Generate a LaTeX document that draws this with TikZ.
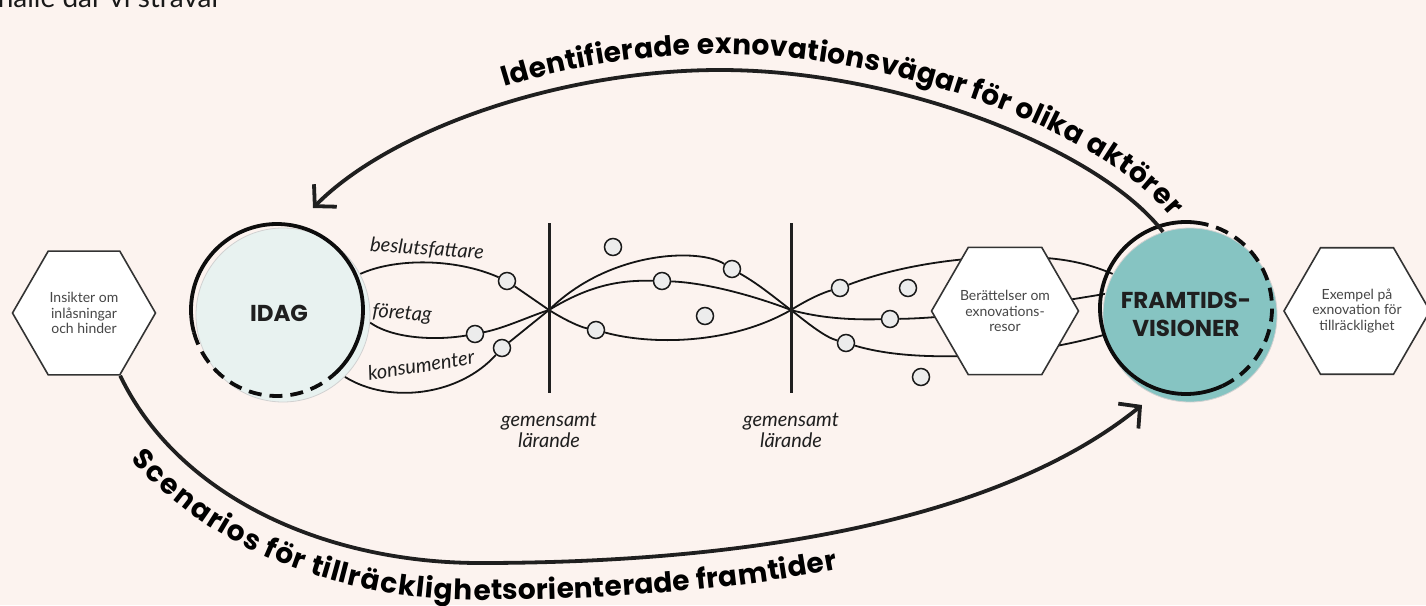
\documentclass[tikz,border=0pt]{standalone}
\usepackage{fontspec}
\setmainfont{Lato}
\newfontfamily\popfont{Poppins}
\usetikzlibrary{decorations.text,arrows.meta,shapes.geometric}
\pgfdeclarelayer{back}
\pgfdeclarelayer{lines}
\pgfsetlayers{back,lines,main}
\definecolor{bgc}{RGB}{252,243,239}
\definecolor{idagfill}{RGB}{232,242,240}
\definecolor{tealc}{RGB}{134,196,194}
\definecolor{dotfill}{RGB}{236,236,236}
\definecolor{hextext}{RGB}{70,70,70}
\begin{document}
\begin{tikzpicture}[x=1pt,y=-1pt,
  hexbox/.style={regular polygon, regular polygon sides=6, minimum size=143pt, inner sep=0pt, draw=black!80, line width=1.6pt, fill=white, text=hextext, align=center, font=\fontsize{14}{15.5}\selectfont},
  bigcirc/.style={circle, minimum size=174pt, inner sep=0pt, draw=black!18, line width=0.8pt},
  dotc/.style={circle, minimum size=17pt, inner sep=0pt, draw=black!90, line width=1.5pt, fill=dotfill},
  wire/.style={line width=1.8pt, draw=black!92},
  ringsolid/.style={line width=3.8pt, draw=black!95},
  ringdash/.style={line width=3.8pt, draw=black!95, dash pattern=on 13pt off 8pt},
  vbar/.style={line width=3pt, draw=black!88},
  bigarrow/.style={line width=3.8pt, draw=black!88, -{Straight Barb[length=15pt,width=32pt]}},
  lab/.style={font=\itshape\fontsize{20}{21}\selectfont, text=black!88, inner sep=0pt},
  circtxt/.style={font=\popfont\bfseries\fontsize{23}{28}\selectfont, text=black!88, align=center},
]
\begin{pgfonlayer}{back}
\fill[bgc] (0,0) rectangle (1426,605);
\end{pgfonlayer}
\useasboundingbox (0,0) rectangle (1426,605);

% cut-off text at top
\node[anchor=base east, inner sep=0pt, font=\fontsize{28}{30}\selectfont, text=black!90] (topfrag) at (222,8) {samhälle där vi strävar};

% main nodes
\node[hexbox] (lhex) at (84,313) {Insikter om\\inlåsningar\\och hinder};
\node[bigcirc, fill=idagfill] (idag) at (283,315) {};
\node[hexbox] (mhex) at (1005,311) {Berättelser om\\exnovations-\\resor};
\node[bigcirc, fill=tealc] (framtid) at (1190,315) {};
\node[hexbox] (rhex) at (1357,311) {Exempel på\\exnovation för\\tillräcklighet};

% rings
\draw[ringsolid] ([shift={(-50:86pt)}]277,310) arc[start angle=-50, end angle=195, radius=86pt];
\draw[ringdash] ([shift={(195:86pt)}]277,310) arc[start angle=195, end angle=310, radius=86pt];
\draw[ringsolid] ([shift={(75:86pt)}]1186,308) arc[start angle=75, end angle=295, radius=86pt];
\draw[ringdash] ([shift={(-65:86pt)}]1186,308) arc[start angle=-65, end angle=75, radius=86pt];

\node[circtxt] (idagtxt) at (279,313) {IDAG};
\node[circtxt] (ftxt) at (1186,314) {FRAMTIDS-\\VISIONER};

% crossings and bars
\coordinate (x1) at (549,310);
\coordinate (x2) at (791,310);
\coordinate (v1a) at (549,223);
\coordinate (v1b) at (549,393);
\coordinate (v2a) at (791,223);
\coordinate (v2b) at (791,393);

% dots
\node[dotc] (d1) at (507,281) {};
\node[dotc] (d2) at (475,334) {};
\node[dotc] (d3) at (502,348) {};
\node[dotc] (d4) at (613,247) {};
\node[dotc] (d5) at (662,281) {};
\node[dotc] (d6) at (732,269) {};
\node[dotc] (d7) at (705,316) {};
\node[dotc] (d8) at (596,330) {};
\node[dotc] (d9) at (840,288) {};
\node[dotc] (d10) at (908,288) {};
\node[dotc] (d11) at (890,319) {};
\node[dotc] (d12) at (846,343) {};
\node[dotc] (d13) at (921,377) {};

\begin{pgfonlayer}{lines}
\draw[wire] (idag.28) .. controls (395,258) and (455,258) .. (d1) -- (x1);
\draw[wire] (idag.-5) .. controls (395,340) and (440,340) .. (d2) .. controls (505,328) and (530,316) .. (x1);
\draw[wire] (idag.-45) .. controls (390,405) and (460,395) .. (d3) -- (x1);
\draw[wire] (x1) .. controls (610,250) and (700,248) .. (d6) .. controls (760,285) and (775,298) .. (x2);
\draw[wire] (x1) .. controls (590,285) and (620,280) .. (d5) .. controls (710,283) and (760,298) .. (x2);
\draw[wire] (x1) .. controls (565,320) and (580,327) .. (d8) .. controls (650,345) and (730,345) .. (x2);
\draw[wire] (x2) .. controls (810,298) and (825,292) .. (d9) .. controls (900,265) and (960,258) .. (1000,257) .. controls (1050,256) and (1080,260) .. (framtid.152);
\draw[wire] (x2) .. controls (820,318) and (850,320) .. (d11) .. controls (960,318) and (1050,303) .. (framtid.166);
\draw[wire] (x2) .. controls (810,325) and (825,337) .. (d12) .. controls (890,356) and (930,357) .. (970,356) .. controls (1030,353) and (1075,343) .. (framtid.193);
\end{pgfonlayer}

\draw[vbar] (v1a) -- (v1b);
\draw[vbar] (v2a) -- (v2b);

% labels
\node[lab, rotate=-4] (lb1) at (427,249) {beslutsfattare};
\node[lab, rotate=-4] (lb2) at (402,314) {företag};
\node[lab, rotate=9] (lb3) at (421,365) {konsumenter};
\node[lab, align=center] (gl1) at (549,430) {gemensamt\\lärande};
\node[lab, align=center] (gl2) at (791,430) {gemensamt\\lärande};

% big arrows
\coordinate (ta) at (313,208);
\coordinate (tb) at (1142,405);
\draw[bigarrow] (framtid.108) .. controls (1100,150) and (900,70) .. (720,70) .. controls (560,70) and (390,130) .. (ta);
\draw[bigarrow] (lhex.300) .. controls (180,500) and (330,563) .. (480,563) .. controls (750,563) and (1000,520) .. (tb);

% curved texts
\path[decorate, decoration={text along path, raise=16pt, text align={left indent=225pt},
  text={|\popfont\bfseries\fontsize{28}{28}\selectfont|Identifierade exnovationsvägar för olika aktörer}}]
  (ta) .. controls (390,130) and (560,70) .. (720,70) .. controls (900,70) and (1100,150) .. (framtid.108) -- ++(40pt,-60pt);
\path[decorate, decoration={text along path, raise=-37pt, text align={left indent=70pt},
  text={|\popfont\bfseries\fontsize{28}{28}\selectfont|Scenarios för tillräcklighetsorienterade framtider}}]
  (lhex.300) .. controls (180,500) and (330,563) .. (480,563) .. controls (750,563) and (1000,520) .. (tb) -- ++(40pt,30pt);
\end{tikzpicture}
\end{document}
